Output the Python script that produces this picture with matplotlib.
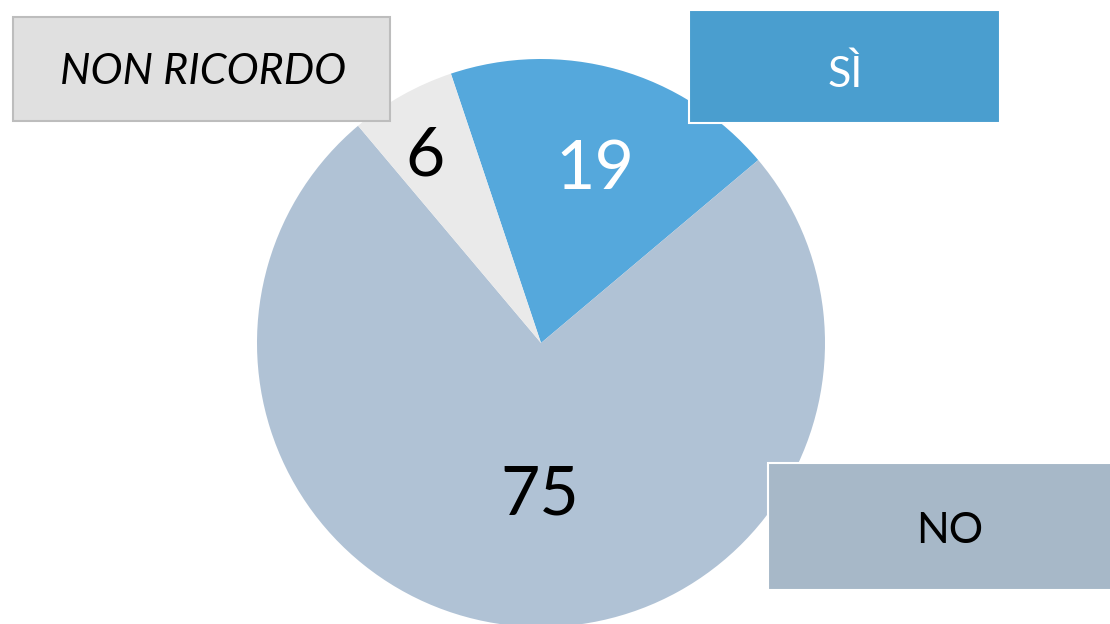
import numpy as np
import matplotlib.pyplot as plt
from matplotlib.patches import Rectangle

plt.rcParams['font.family'] = ['Lato', 'DejaVu Sans']

# Survey answers (percent)
labels = ['SÌ', 'NO', 'NON RICORDO']
values = [19, 75, 6]
slice_colors = ['#55a8dc', '#b0c2d5', '#eaeaea']
value_colors = ['white', 'black', 'black']
value_dist = [0.64, 0.54, 0.76]
value_nudge = [(5, -2), (12, 0), (-10, -2)]  # pixel tweaks for the number labels

# Label boxes: (x0, y0, w, h) in pixels, fill, edge, text colour, italic, text centre
boxes = {
    'SÌ': ((689, 501, 311, 113), '#4a9ecf', 'white', 'white', 'normal', (845, 550)),
    'NO': ((768, 34, 350, 127), '#a7b8c8', 'white', 'black', 'normal', (950, 93)),
    'NON RICORDO': ((13, 503, 377, 104), '#e0e0e0', '#bdbdbd', 'black', 'italic', (203, 552)),
}


def main():
    fig = plt.figure(figsize=(11.1, 6.24), dpi=100)
    ax = fig.add_axes([0, 0, 1, 1])

    cx, cy, r = 541, 281, 284
    wedges, _ = ax.pie(values, colors=slice_colors, startangle=108.5,
                       counterclock=False, center=(cx, cy), radius=r,
                       frame=True, wedgeprops=dict(linewidth=0))
    ax.set_xlim(0, 1110)
    ax.set_ylim(0, 624)
    ax.set_aspect('equal')
    ax.axis('off')

    for w, val, col, d, (nx, ny) in zip(wedges, values, value_colors,
                                        value_dist, value_nudge):
        ang = np.deg2rad((w.theta1 + w.theta2) / 2)
        ax.text(cx + d * r * np.cos(ang) + nx, cy + d * r * np.sin(ang) + ny,
                str(val), ha='center', va='center', fontsize=49, color=col)

    for name in labels:
        (x0, y0, bw, bh), fc, ec, tc, style, (tx, ty) = boxes[name]
        ax.add_patch(Rectangle((x0, y0), bw, bh, facecolor=fc, edgecolor=ec,
                               linewidth=1.5, zorder=3))
        ax.text(tx, ty, name, ha='center', va='center', fontsize=31,
                color=tc, style=style, zorder=4)

    fig.savefig('out.png', dpi=100)


if __name__ == "__main__":
    main()
